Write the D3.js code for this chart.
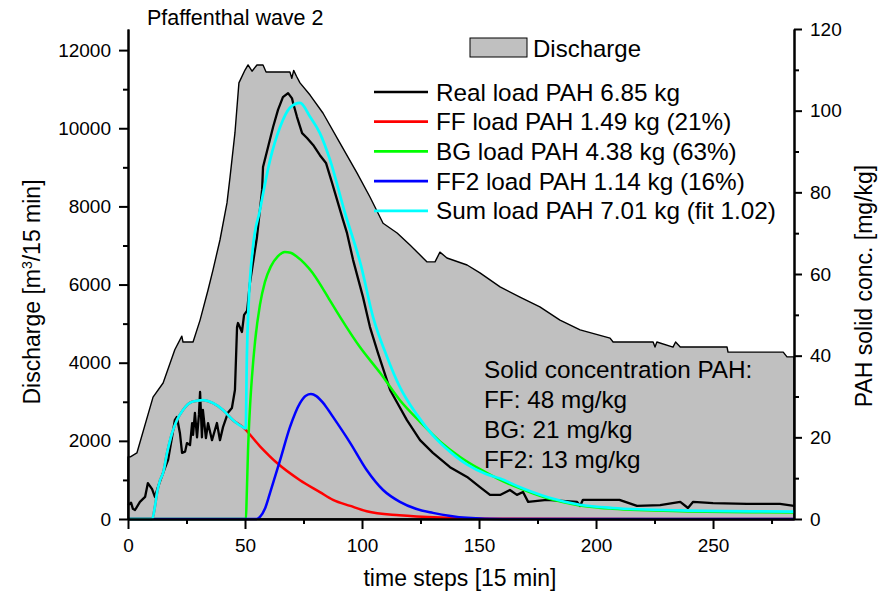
<!DOCTYPE html>
<html>
<head>
<meta charset="utf-8">
<script src="https://cdn.jsdelivr.net/npm/d3@7"></script>
<style>
	body { margin: 0; background: #fff; }
	text { font-family: Arial, "Liberation Sans", sans-serif; }
</style>
</head>
<body>
<div id="fig_wave"></div>
<script>
	// ---- data ----
	// discharge [m3/15 min] per time step (left axis)
	var discharge = [[0,1590],[1,1590],[3.8,1690],[10.7,3120],[15,3480],[20,4330],[23,4680],[23.5,4530],[27.8,4530],
		[30.8,5090],[34.2,5860],[36.3,6370],[39.3,7140],[42.3,8090],[43.6,8750],[45.7,9880],[47.4,11160],[50,11490],
		[51.3,11620],[53,11460],[55.1,11620],[57.7,11620],[59,11440],[69.2,11440],[70,11280],[70.8,11480],[72,11330],
		[73.5,11160],[77.8,10850],[83.3,10390],[90.6,9620],[97.9,8850],[103.4,8240],[109,7570],[115,7320],[120.5,7010],
		[127.8,6580],[131.2,6580],[133.3,6830],[136.3,6680],[144.9,6500],[150.4,6300],[159,5940],[167.5,5680],[176,5430],
		[184.6,5090],[193.2,4840],[206,4630],[207.3,4530],[224.4,4530],[225.2,4400],[226,4530],[232.9,4400],[234,4530],
		[236,4400],[256,4400],[256.4,4270],[280,4270],[281.6,4150],[284.6,4150]];

	// loads, plotted on the right axis scale
	var realLoad = [[0,3.4],[1.3,4.0],[2.1,2.5],[3,2.2],[5.1,4.2],[7.3,5.4],[8.5,8.8],[10.3,7.3],[11.5,5.4],[12.8,7.8],
		[15,11.3],[17.1,14.4],[18.8,20],[20,24.2],[20.9,25],[22.2,21],[23.1,16.2],[24.4,16.5],[25.2,18.6],[26.5,18.1],
		[27.4,23.5],[27.8,20.6],[28.6,26],[29.5,20],[30.3,25.5],[30.8,31.1],[31.6,20],[32,26.7],[33.3,19.8],[34.2,23.5],
		[35.9,19.3],[38,23.5],[39.3,19.3],[40.6,22.5],[42.7,26],[44.4,27.2],[45.7,31.6],[46.6,47],[47,48],[48.7,45.8],
		[49.6,50],[50.9,51],[52.1,57.8],[55.1,69],[57.3,80.6],[57.7,86.2],[59.8,91],[62,96],[64.1,100.2],[66.2,103.3],
		[68.4,104.3],[70.1,103],[70.5,102],[72.2,98.5],[74.4,94.5],[76.5,93.3],[79.1,91.6],[82,89.1],[84.6,87.2],
		[87.2,82.3],[91.9,73.2],[93.6,70],[96.2,63.4],[100.4,54.4],[103.4,47],[106.8,40.7],[112,31.6],[119.2,24.2],
		[124.8,19.3],[130.3,16.2],[137.6,12.7],[144.9,10.3],[150.4,7.8],[154.7,5.9],[159,5.9],[163.2,7.1],[166.2,5.9],
		[168.8,6.6],[171,4.2],[179,4.7],[191.9,4.2],[193.2,3.2],[194.4,4.7],[210,4.7],[217.5,3.2],[227.4,3.4],[236,4.2],
		[239.3,2.7],[241.5,4.2],[250,3.9],[264.5,3.7],[278.6,3.7],[284.6,3.2]];

	var ffLoad = [[0,0],[10.3,0],[11.5,3],[12.4,6.4],[13.7,9.5],[15,11.3],[16.7,16.2],[18.8,21],[20.9,24.2],[23.5,26.7],
		[27.4,28.7],[32,29.1],[36.3,28.4],[40.6,26.7],[44.9,24.2],[49.1,22.5],[56.4,17.8],[63.7,13.7],[73.5,9.5],[82,6.6],
		[87.6,4.7],[95,3.2],[102,1.9],[116,0.9],[137.6,0.3],[160,0.05],[284.6,0]];

	var bgLoad = [[0,0],[50.4,0],[50.7,5],[51.3,17],[52,26],[53,35],[54.3,43.5],[56.4,52.5],[58.5,58],[61,61.8],
		[64,64.3],[67,65.4],[69.5,65.2],[72.2,64.2],[75.6,62.5],[79,60.2],[82,57.6],[86,53.8],[90.6,49.5],
		[99.1,42.1],[107.7,35.8],[116.2,29.1],[124.8,23.8],[133.3,19],[141.9,15.2],[150.4,12.2],[159,9.6],[167,7.6],
		[179,5.1],[193,3.3],[207,2.5],[236,1.9],[284.6,1.6]];

	var ff2Load = [[0,0],[55,0],[56.4,0.5],[58.5,2.5],[60.7,6.4],[65,14.4],[69.2,22.5],[73.5,28.4],[76,30.2],[78.2,30.6],
		[80.5,30.1],[84,28],[87.6,25],[95,18.6],[102,12],[109,7.1],[116.2,4.2],[123,2.5],[130.3,1.5],[144.9,0.3],[160,0],
		[284.6,0]];

	var sumLoad = [[0,0],[10.3,0],[11.5,3],[12.4,6.4],[13.7,9.5],[15,11.3],[16.7,16.2],[18.8,21],[20.9,24.2],[23.5,26.7],
		[27.4,28.7],[32,29.1],[36.3,28.4],[40.6,26.7],[44.9,24.2],[49.1,22.5],[50.3,22.2],[50.8,40],[51.5,52],[53.4,66.6],
		[56.4,75.7],[60.7,87.9],[65,96],[69.2,100.7],[73.5,101.9],[77.8,98.5],[82,94.5],[86.3,88],[92.7,75],[99.6,62],
		[104.7,49.5],[110.7,39.7],[116.2,32.3],[123.5,25.5],[130.3,20.5],[137.6,16.5],[145,13.3],[153,11],[159,9.9],
		[167,7.9],[179,5.4],[193,3.5],[207,2.7],[236,2.1],[284.6,1.8]];

	var legendLabels = ["Real load PAH 6.85 kg", "FF load PAH 1.49 kg (21%)", "BG load PAH 4.38 kg (63%)",
		"FF2 load PAH 1.14 kg (16%)", "Sum load PAH 7.01 kg (fit 1.02)"];
	var noteLines = ["Solid concentration PAH:", "FF: 48 mg/kg", "BG: 21 mg/kg", "FF2: 13 mg/kg"];
	var xTicks = [0, 50, 100, 150, 200, 250];
	var yLeftTicks = [0, 2000, 4000, 6000, 8000, 10000, 12000];
	var yRightTicks = [0, 20, 40, 60, 80, 100, 120];

	// ---- layout ----
	var width = 888, height = 596;
	var plot = {left: 128, right: 794, top: 29, bottom: 519};

	var svg = d3.select("#fig_wave")
		.append("svg")
		.attr("width", width)
		.attr("height", height);

	var x = d3.scaleLinear().domain([0, 284.6]).range([plot.left, plot.right]);
	var yL = d3.scaleLinear().domain([0, 12540]).range([plot.bottom, plot.top]);
	var yR = d3.scaleLinear().domain([0, 120]).range([plot.bottom, plot.top]);

	// discharge area
	var area = d3.area()
		.x(function(d) { return x(d[0]); })
		.y0(yL(0))
		.y1(function(d) { return yL(d[1]); });

	svg.append("path")
		.datum(discharge)
		.attr("d", area)
		.attr("fill", "#c0c0c0")
		.attr("stroke", "#000")
		.attr("stroke-width", 1.4)
		.attr("stroke-linejoin", "round");

	// load curves
	var lineLin = d3.line()
		.x(function(d) { return x(d[0]); })
		.y(function(d) { return yR(d[1]); });
	var lineSmooth = d3.line()
		.x(function(d) { return x(d[0]); })
		.y(function(d) { return yR(d[1]); })
		.curve(d3.curveMonotoneX);

	var series = [
		{data: realLoad, color: "#000000", line: lineLin, w: 2.3},
		{data: ffLoad, color: "#ff0000", line: lineSmooth, w: 2.5},
		{data: bgLoad, color: "#00ff00", line: lineSmooth, w: 2.5},
		{data: ff2Load, color: "#0000ff", line: lineSmooth, w: 2.5},
		{data: sumLoad, color: "#00ffff", line: lineSmooth, w: 2.7}
	];

	series.forEach(function(s) {
		svg.append("path")
			.datum(s.data)
			.attr("d", s.line)
			.attr("fill", "none")
			.attr("stroke", s.color)
			.attr("stroke-width", s.w)
			.attr("stroke-linejoin", "round");
	});

	// axes
	function styleAxis(g) {
		g.selectAll("path, line").attr("stroke", "#000").attr("stroke-width", 2);
		g.selectAll("text").attr("font-family", "Arial, 'Liberation Sans', sans-serif")
			.attr("font-size", 19).attr("fill", "#000");
	}

	var fmt = d3.format("d");

	svg.append("g")
		.attr("transform", "translate(0," + plot.bottom + ")")
		.call(d3.axisBottom(x).tickValues(d3.range(25, 285, 50)).tickSize(5).tickFormat("").tickSizeOuter(0))
		.call(styleAxis);
	svg.append("g")
		.attr("transform", "translate(0," + plot.bottom + ")")
		.call(d3.axisBottom(x).tickValues(xTicks).tickFormat(fmt).tickSize(10).tickPadding(10).tickSizeOuter(0))
		.call(styleAxis);

	svg.append("g")
		.attr("transform", "translate(" + plot.left + ",0)")
		.call(d3.axisLeft(yL).tickValues(d3.range(1000, 12540, 2000)).tickSize(5).tickFormat("").tickSizeOuter(0))
		.call(styleAxis);
	svg.append("g")
		.attr("transform", "translate(" + plot.left + ",0)")
		.call(d3.axisLeft(yL).tickValues(yLeftTicks).tickFormat(fmt).tickSize(9).tickPadding(8).tickSizeOuter(0))
		.call(styleAxis);

	svg.append("g")
		.attr("transform", "translate(" + plot.right + ",0)")
		.call(d3.axisRight(yR).tickValues(d3.range(10, 120, 20)).tickSize(5).tickFormat("").tickSizeOuter(0))
		.call(styleAxis);
	svg.append("g")
		.attr("transform", "translate(" + plot.right + ",0)")
		.call(d3.axisRight(yR).tickValues(yRightTicks).tickFormat(fmt).tickSize(8).tickPadding(8).tickSizeOuter(0))
		.call(styleAxis);

	// titles
	svg.append("text")
		.attr("x", 147).attr("y", 25)
		.attr("font-size", 21.5)
		.text("Pfaffenthal wave 2");

	svg.append("text")
		.attr("x", 460).attr("y", 586)
		.attr("text-anchor", "middle")
		.attr("font-size", 23)
		.text("time steps [15 min]");

	var yTitle = svg.append("text")
		.attr("transform", "translate(40,292) rotate(-90)")
		.attr("text-anchor", "middle")
		.attr("font-size", 23);
	yTitle.append("tspan").text("Discharge [m");
	yTitle.append("tspan").attr("dy", -8).attr("font-size", 14).text("3");
	yTitle.append("tspan").attr("dy", 8).text("/15 min]");

	svg.append("text")
		.attr("transform", "translate(872,286) rotate(-90)")
		.attr("text-anchor", "middle")
		.attr("font-size", 23)
		.text("PAH solid conc. [mg/kg]");

	// legend
	svg.append("rect")
		.attr("x", 470).attr("y", 38)
		.attr("width", 57).attr("height", 19)
		.attr("fill", "#c0c0c0")
		.attr("stroke", "#000")
		.attr("stroke-width", 1);
	svg.append("text")
		.attr("x", 533).attr("y", 57)
		.attr("font-size", 24)
		.text("Discharge");

	var legend = svg.selectAll(".legend")
		.data(legendLabels)
		.enter()
		.append("g")
		.attr("class", "legend")
		.attr("transform", function(d, i) { return "translate(0," + (92 + i * 29.7) + ")"; });

	legend.append("line")
		.attr("x1", 374).attr("x2", 428)
		.attr("y1", 0).attr("y2", 0)
		.attr("stroke", function(d, i) { return series[i].color; })
		.attr("stroke-width", 2.7);

	legend.append("text")
		.attr("x", 436).attr("y", 8.5)
		.attr("font-size", 24.3)
		.text(function(d) { return d; });

	// solid concentration note
	svg.selectAll(".note")
		.data(noteLines)
		.enter()
		.append("text")
		.attr("class", "note")
		.attr("x", 484)
		.attr("y", function(d, i) { return 378 + i * 30; })
		.attr("font-size", 24.3)
		.text(function(d) { return d; });
</script>
</body>
</html>
